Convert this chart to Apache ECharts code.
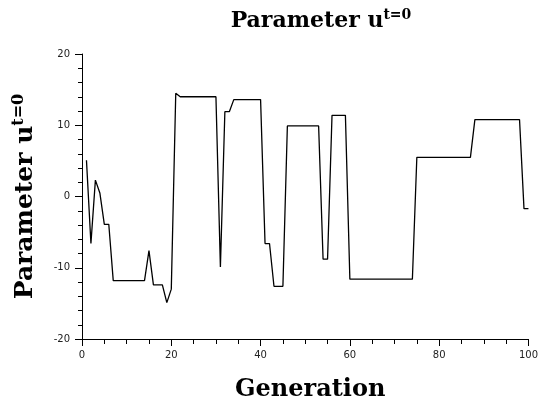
<!DOCTYPE html>
<html><head><meta charset="utf-8">
<script src="https://cdn.jsdelivr.net/npm/echarts@6/dist/echarts.min.js"></script>
<style>html,body{margin:0;padding:0;background:#fff}#c{width:541px;height:407px}</style>
</head><body><div id="c"></div>
<script>
const generations = [];
for (let g = 1; g <= 100; g++) generations.push(g);
const values = [
  5.1, -6.6, 2.3, 0.5, -3.9, -3.9, -11.8, -11.8, -11.8, -11.8,
  -11.8, -11.8, -11.8, -11.8, -7.6, -12.4, -12.4, -12.4, -14.9, -13.0,
  14.5, 14.0, 14.0, 14.0, 14.0, 14.0, 14.0, 14.0, 14.0, 14.0,
  -9.9, 11.9, 11.9, 13.6, 13.6, 13.6, 13.6, 13.6, 13.6, 13.6,
  -6.6, -6.6, -12.6, -12.6, -12.6, 9.9, 9.9, 9.9, 9.9, 9.9,
  9.9, 9.9, 9.9, -8.8, -8.8, 11.4, 11.4, 11.4, 11.4, -11.6,
  -11.6, -11.6, -11.6, -11.6, -11.6, -11.6, -11.6, -11.6, -11.6, -11.6,
  -11.6, -11.6, -11.6, -11.6, 5.5, 5.5, 5.5, 5.5, 5.5, 5.5,
  5.5, 5.5, 5.5, 5.5, 5.5, 5.5, 5.5, 10.8, 10.8, 10.8,
  10.8, 10.8, 10.8, 10.8, 10.8, 10.8, 10.8, 10.8, -1.7, -1.7
];
const xTicks = [0, 20, 40, 60, 80, 100];
const yTicks = [-20, -10, 0, 10, 20];
const titleText = 'Parameter u';
const superText = 't=0';
const xName = 'Generation';

const serif = '"DejaVu Serif", serif';
const chart = echarts.init(document.getElementById('c'), null, {renderer: 'canvas'});
function rich(size, supSize, raise) {
  return {
    a: {fontFamily: serif, fontWeight: 'bold', fontSize: size, color: '#000'},
    b: {fontFamily: serif, fontWeight: 'bold', fontSize: supSize, color: '#000', verticalAlign: 'bottom', padding: [0, 0, raise, 0]}
  };
}
chart.setOption({
  animation: false,
  title: {
    text: '{a|' + titleText + '}{b|' + superText + '}',
    left: 316, top: 3, textAlign: 'center',
    textStyle: {rich: rich(22, 14, 12)}
  },
  grid: {left: 82, right: 11, top: 54, bottom: 64, containLabel: false},
  xAxis: {
    type: 'value', min: xTicks[0], max: xTicks[xTicks.length - 1], interval: 20,
    name: xName, nameLocation: 'middle', nameGap: 39,
    nameTextStyle: {fontFamily: serif, fontWeight: 'bold', fontSize: 24, color: '#000', padding: [0, 0, 0, 10]},
    axisLine: {show: true, onZero: false, lineStyle: {color: '#000', width: 1}},
    axisTick: {show: true, inside: false, length: 7, lineStyle: {color: '#000'}},
    minorTick: {show: true, splitNumber: 4, length: 5, lineStyle: {color: '#000'}},
    axisLabel: {fontFamily: '"DejaVu Sans", sans-serif', fontSize: 10, color: '#222', margin: 11},
    splitLine: {show: false}
  },
  yAxis: {
    type: 'value', min: yTicks[0], max: yTicks[yTicks.length - 1], interval: 10,
    name: '{a|' + titleText + '}{b|' + superText + '}', nameLocation: 'middle', nameGap: 42, nameRotate: 90,
    nameTextStyle: {rich: rich(25, 16, 13), padding: [0, 0, 0, 0]},
    axisLine: {show: true, onZero: false, lineStyle: {color: '#000', width: 1}},
    axisTick: {show: true, inside: false, length: 7, lineStyle: {color: '#000'}},
    minorTick: {show: true, splitNumber: 5, length: 4, lineStyle: {color: '#000'}},
    axisLabel: {fontFamily: '"DejaVu Sans", sans-serif', fontSize: 10, color: '#222', margin: 12},
    splitLine: {show: false}
  },
  series: [{
    type: 'line',
    data: generations.map((g, i) => [g, values[i]]),
    showSymbol: false, symbol: 'none',
    lineStyle: {color: '#000', width: 1.3},
    z: 3
  }]
});
</script></body></html>
